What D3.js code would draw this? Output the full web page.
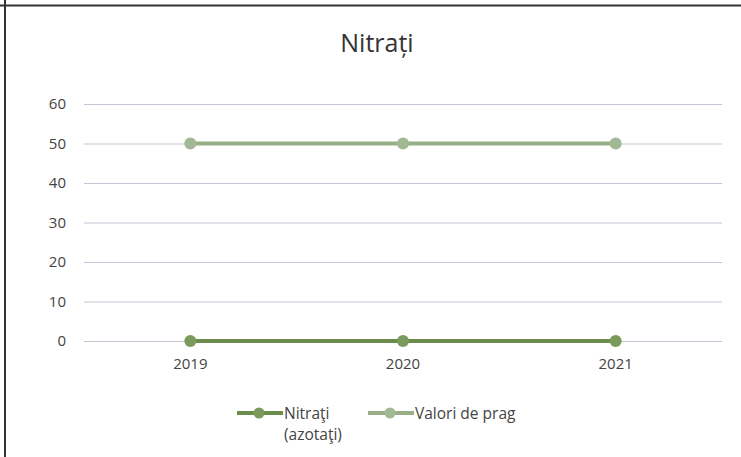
<!DOCTYPE html>
<html><head><meta charset="utf-8">
<script src="https://cdn.jsdelivr.net/npm/d3@7"></script>
<style>body{margin:0;background:#fff;}svg{display:block;}</style>
</head><body>
<script>
const years = ["2019", "2020", "2021"];
const nitrati = [0, 0, 0];
const valoriPrag = [50, 50, 50];
const yTicks = [0, 10, 20, 30, 40, 50, 60];
const seriesNames = ["Nitraţi", "Valori de prag"];

const W = 741, H = 457;
const svg = d3.select("body").append("svg").attr("width", W).attr("height", H);
svg.append("rect").attr("width", W).attr("height", H).attr("fill", "#fff");

// scan frame
svg.append("line").attr("x1", 0).attr("x2", W).attr("y1", 5.5).attr("y2", 5.5).attr("stroke", "#333").attr("stroke-width", 2);
svg.append("line").attr("x1", 5).attr("x2", 5).attr("y1", 0).attr("y2", H).attr("stroke", "#333").attr("stroke-width", 2);

const x = d3.scaleBand().domain(years).range([84, 722]);
const y = d3.scaleLinear().domain([0, 60]).range([341, 104]);

svg.append("text").attr("x", 377).attr("y", 52).attr("text-anchor", "middle")
  .attr("font-family", "Liberation Sans Narrow, Open Sans, sans-serif").attr("font-size", 25).attr("fill", "#333")
  .text("Nitrați");

const yAxis = svg.append("g").attr("transform", "translate(84,0)")
  .call(d3.axisLeft(y).tickValues(yTicks).tickSize(-638).tickPadding(18));
yAxis.select(".domain").remove();
yAxis.selectAll(".tick line").attr("stroke", "#c4c4d4").attr("stroke-width", 1.2);
yAxis.selectAll(".tick text").attr("font-family", "Open Sans, sans-serif").attr("font-size", 15).attr("fill", "#444");

const xAxis = svg.append("g").attr("transform", "translate(0,341)")
  .call(d3.axisBottom(x).tickSize(0).tickPadding(17));
xAxis.select(".domain").remove();
xAxis.selectAll(".tick text").attr("font-family", "Open Sans, sans-serif").attr("font-size", 15).attr("fill", "#444");

const series = [
  {name: seriesNames[0], values: nitrati, line: "#6b8c4b", dot: "#7a9a5c"},
  {name: seriesNames[1], values: valoriPrag, line: "#98ae87", dot: "#a2b894"}
];
const lineGen = d3.line().x((d, i) => x(years[i]) + x.bandwidth() / 2).y(d => y(d));
series.forEach(s => {
  svg.append("path").datum(s.values).attr("d", lineGen).attr("fill", "none")
    .attr("stroke", s.line).attr("stroke-width", 4);
  svg.selectAll(null).data(s.values).enter().append("circle")
    .attr("cx", (d, i) => x(years[i]) + x.bandwidth() / 2).attr("cy", d => y(d))
    .attr("r", 6).attr("fill", s.dot);
});

// legend
const leg = [
  {x0: 237, lines: ["Nitraţi", "(azotaţi)"], s: series[0]},
  {x0: 368, lines: ["Valori de prag"], s: series[1]}
];
leg.forEach(l => {
  const g = svg.append("g");
  g.append("line").attr("x1", l.x0).attr("x2", l.x0 + 46).attr("y1", 413).attr("y2", 413)
    .attr("stroke", l.s.line).attr("stroke-width", 4);
  g.append("circle").attr("cx", l.x0 + 22).attr("cy", 413).attr("r", 5.5).attr("fill", l.s.dot);
  l.lines.forEach((t, i) => {
    g.append("text").attr("x", l.x0 + 47).attr("y", 419 + i * 21)
      .attr("font-family", "Open Sans, sans-serif").attr("font-size", 15.5).attr("fill", "#444").text(t);
  });
});
</script>
</body></html>
